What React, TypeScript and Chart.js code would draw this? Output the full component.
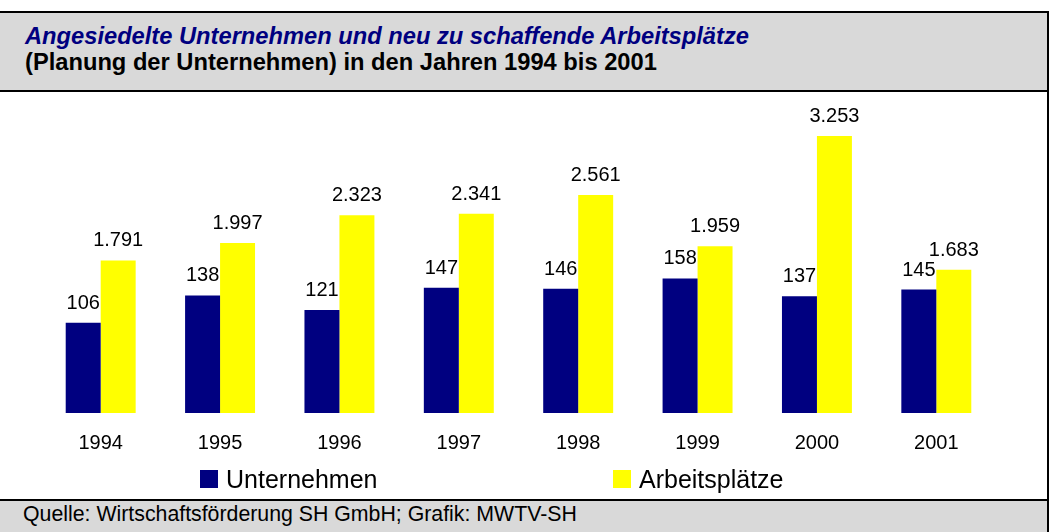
import React, { useEffect, useRef } from "react";
import { Chart, registerables } from "chart.js";

Chart.register(...registerables);

const years = ["1994", "1995", "1996", "1997", "1998", "1999", "2000", "2001"];
const unternehmen = [106, 138, 121, 147, 146, 158, 137, 145];
const arbeitsplaetze = [1791, 1997, 2323, 2341, 2561, 1959, 3253, 1683];
const seriesNames = ["Unternehmen", "Arbeitsplätze"];
const seriesColors = ["#000080", "#FFFF00"];
const titleLine1 = "Angesiedelte Unternehmen und neu zu schaffende Arbeitsplätze";
const titleLine2 = "(Planung der Unternehmen) in den Jahren 1994 bis 2001";
const footerText = "Quelle: Wirtschaftsförderung SH GmbH; Grafik: MWTV-SH";

const FONT = "'Liberation Sans', Arial, Helvetica, sans-serif";

const fmt = (v: number) => String(v).replace(/\B(?=(\d{3})+(?!\d))/g, ".");

const valueLabels = {
  id: "valueLabels",
  afterDatasetsDraw(chart: any) {
    const ctx = chart.ctx;
    ctx.save();
    ctx.font = `20px ${FONT}`;
    ctx.fillStyle = "#000000";
    ctx.textAlign = "center";
    ctx.textBaseline = "alphabetic";
    chart.data.datasets.forEach((ds: any, i: number) => {
      const meta = chart.getDatasetMeta(i);
      meta.data.forEach((el: any, j: number) => {
        ctx.fillText(fmt(ds.data[j]), el.x, el.y - 14);
      });
    });
    ctx.restore();
  },
};

export default function App() {
  const canvasRef = useRef<HTMLCanvasElement | null>(null);

  useEffect(() => {
    if (!canvasRef.current) return;
    const chart = new Chart(canvasRef.current, {
      type: "bar",
      data: {
        labels: years,
        datasets: [
          {
            label: seriesNames[0],
            data: unternehmen,
            backgroundColor: seriesColors[0],
            yAxisID: "y",
            categoryPercentage: 0.586,
            barPercentage: 1.0,
          },
          {
            label: seriesNames[1],
            data: arbeitsplaetze,
            backgroundColor: seriesColors[1],
            yAxisID: "y1",
            categoryPercentage: 0.586,
            barPercentage: 1.0,
          },
        ],
      },
      options: {
        animation: false,
        responsive: false,
        layout: { padding: { top: 40, left: 41, right: 51, bottom: 46 } },
        plugins: {
          legend: { display: false },
          tooltip: { enabled: false },
          title: { display: false },
        },
        scales: {
          x: {
            grid: { display: false, drawTicks: false },
            border: { display: false },
            ticks: {
              color: "#000000",
              font: { family: FONT, size: 20 },
              padding: 18,
              maxRotation: 0,
            },
            afterFit: (scale: any) => {
              scale.height = 40;
            },
          },
          y: { display: false, min: 0, max: 330 },
          y1: { display: false, min: 0, max: 3300, position: "right" },
        },
      },
      plugins: [valueLabels],
    });
    return () => chart.destroy();
  }, []);

  const abs = (s: React.CSSProperties): React.CSSProperties => ({ position: "absolute", ...s });

  return (
    <div style={{ position: "fixed", left: 0, top: 0, width: 1050, height: 532, background: "#ffffff", overflow: "hidden", fontFamily: FONT }}>
      <div style={abs({ left: 0, top: 11, width: 1049, height: 2, background: "#000" })} />
      <div style={abs({ left: 0, top: 13, width: 1047, height: 77, background: "#d9d9d9" })} />
      <div style={abs({ left: 0, top: 90, width: 1049, height: 2, background: "#000" })} />
      <div style={abs({ left: 0, top: 499, width: 1049, height: 2, background: "#000" })} />
      <div style={abs({ left: 0, top: 501, width: 1047, height: 31, background: "#d9d9d9" })} />
      <div style={abs({ left: 1047, top: 11, width: 2, height: 521, background: "#000" })} />

      <div style={abs({ left: 25, top: 23, fontSize: "23.7px", lineHeight: "26px", fontWeight: "bold", whiteSpace: "nowrap" })}>
        <div style={{ fontStyle: "italic", color: "#000080" }}>{titleLine1}</div>
        <div style={{ color: "#000000" }}>{titleLine2}</div>
      </div>

      <canvas ref={canvasRef} width={1047} height={407} style={abs({ left: 0, top: 92, width: 1047, height: 407 })} />

      {seriesNames.map((name, i) => (
        <div key={name} style={abs({ left: i === 0 ? 200 : 613, top: 464, height: 30, display: "flex", alignItems: "center", whiteSpace: "nowrap" })}>
          <span style={{ display: "inline-block", width: 18, height: 18, background: seriesColors[i], marginRight: 8 }} />
          <span style={{ fontSize: 25, color: "#000", lineHeight: "30px" }}>{name}</span>
        </div>
      ))}

      <div style={abs({ left: 23, top: 502, fontSize: "21.3px", lineHeight: "24px", color: "#000", whiteSpace: "nowrap" })}>{footerText}</div>
    </div>
  );
}
